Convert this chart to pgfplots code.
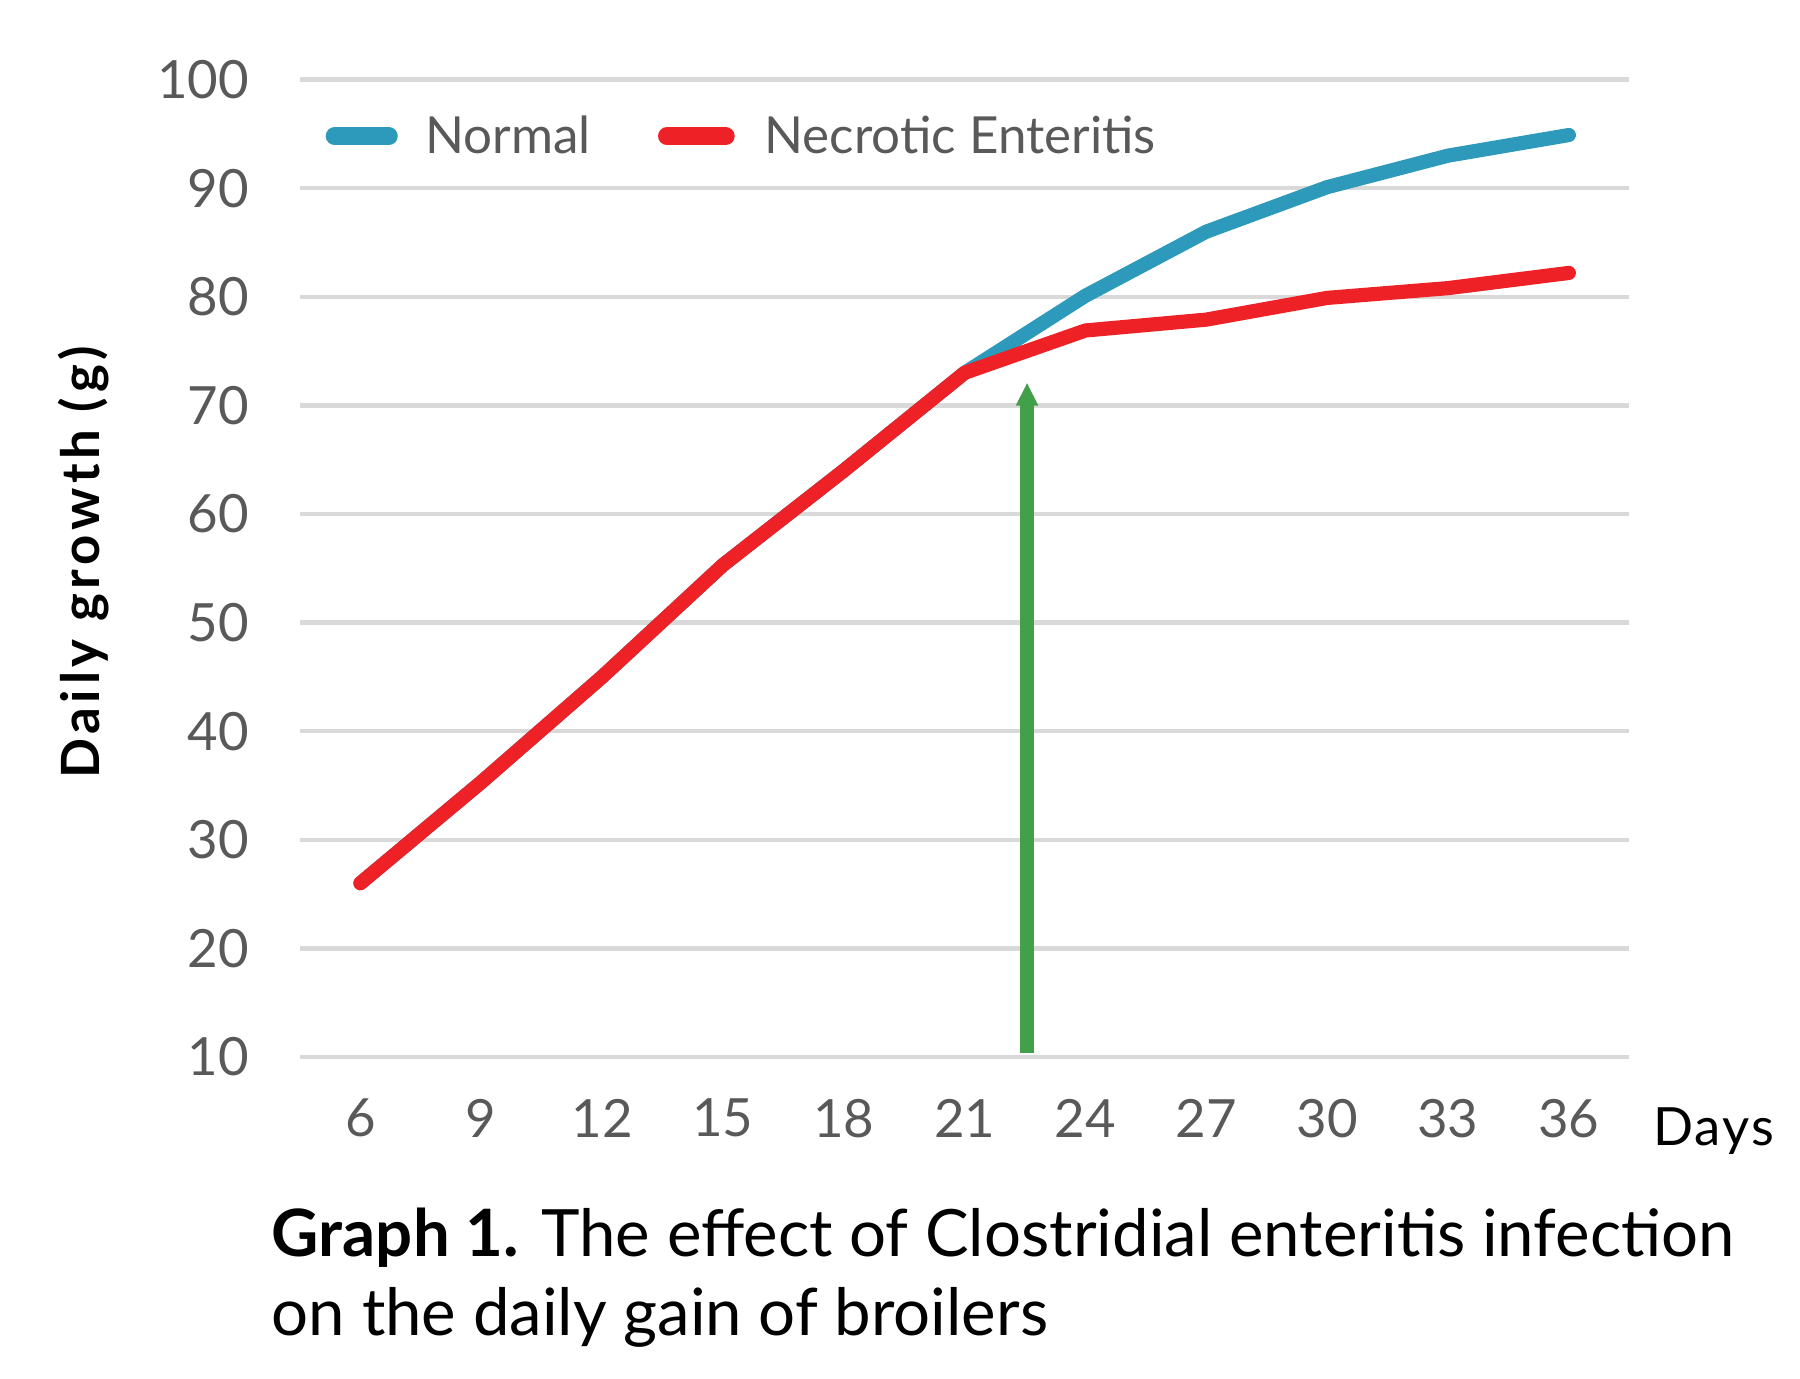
\documentclass[border=0pt]{standalone}
\usepackage{fontspec}
\setmainfont{Lato}
\usepackage{pgfplots}
\pgfplotsset{compat=1.18}
\usetikzlibrary{arrows.meta}

\definecolor{normalblue}{HTML}{2E9ABB}
\definecolor{nered}{HTML}{EE2226}
\definecolor{arrowgreen}{HTML}{43A04A}
\definecolor{gridgray}{HTML}{D9D9D9}
\definecolor{ticktext}{HTML}{595959}

\begin{document}
\begin{tikzpicture}
\begin{axis}[
    at={(0,0)}, anchor=south west,
    scale only axis,
    width=11.52cm,
    height=8.47cm,
    xmin=4.5, xmax=37.5,
    ymin=10, ymax=100,
    xtick={6,9,...,36},
    ytick={10,20,...,100},
    ymajorgrids,
    major grid style={gridgray, line width=1.1pt},
    axis line style={draw=none},
    major tick length=0pt,
    tick label style={ticktext, font=\fontsize{13}{15}\selectfont},
    /pgf/number format/assume math mode=true,
    xticklabel style={yshift=-2.4mm},
    yticklabel style={xshift=-3.2mm},
    ylabel={\addfontfeatures{LetterSpace=9}\bfseries Daily growth (g)},
    every axis y label/.style={at={(rel axis cs:0,0.506)}, xshift=-1.88cm,
        rotate=90, anchor=center, font=\fontsize{13}{15}\selectfont, black},
    clip=false,
]

% normal
\addplot[normalblue, line width=3.5pt, line cap=round, line join=round]
coordinates {
    (6,26.0) (9,35.3) (12,45.0) (15,55.3) (18,64.0) (21,73.0)
    (24,80.1) (27,86.0) (30,90.1) (33,93.0) (36,94.9)
};

% necrotic enteritis
\addplot[nered, line width=3.5pt, line cap=round, line join=round]
coordinates {
    (6,26.0) (9,35.3) (12,45.0) (15,55.3) (18,64.0) (21,73.0)
    (24,76.9) (27,77.9) (30,79.9) (33,80.8) (36,82.2)
};

% infection marker
\addplot[arrowgreen, line width=3.6pt,
    -{Triangle[width=1.8mm,length=2.0mm]}]
coordinates {(22.55,10.4) (22.55,72.1)};

\node[anchor=base west, inner sep=0pt, black, font=\fontsize{13}{15}\selectfont]
    at ([xshift=2.0mm,yshift=-7.7mm]rel axis cs:1,0) {\addfontfeatures{LetterSpace=4}Days};
\end{axis}

% legend
\draw[normalblue, line width=4.4pt, line cap=round] (0.30,7.98) -- (0.77,7.98);
\node[anchor=base west, inner sep=0pt, ticktext, font=\fontsize{12.6}{15}\selectfont]
    at (1.08,7.83) {Normal};
\draw[nered, line width=4.4pt, line cap=round] (3.18,7.98) -- (3.69,7.98);
\node[anchor=base west, inner sep=0pt, ticktext, font=\fontsize{12.6}{15}\selectfont]
    at (4.02,7.83) {Necrotic Enteritis};

% caption
\node[anchor=base west, inner sep=0pt, font=\fontsize{16.1}{19}\selectfont]
    at (-0.25,-1.73) {\textbf{Graph 1.} The effect of Clostridial enteritis infection};
\node[anchor=base west, inner sep=0pt, font=\fontsize{16.1}{19}\selectfont]
    at (-0.25,-2.41) {on the daily gain of broilers};

\pgfresetboundingbox
\useasboundingbox (-2.60,-2.79) rectangle (13.00,9.16);
\end{tikzpicture}
\end{document}
